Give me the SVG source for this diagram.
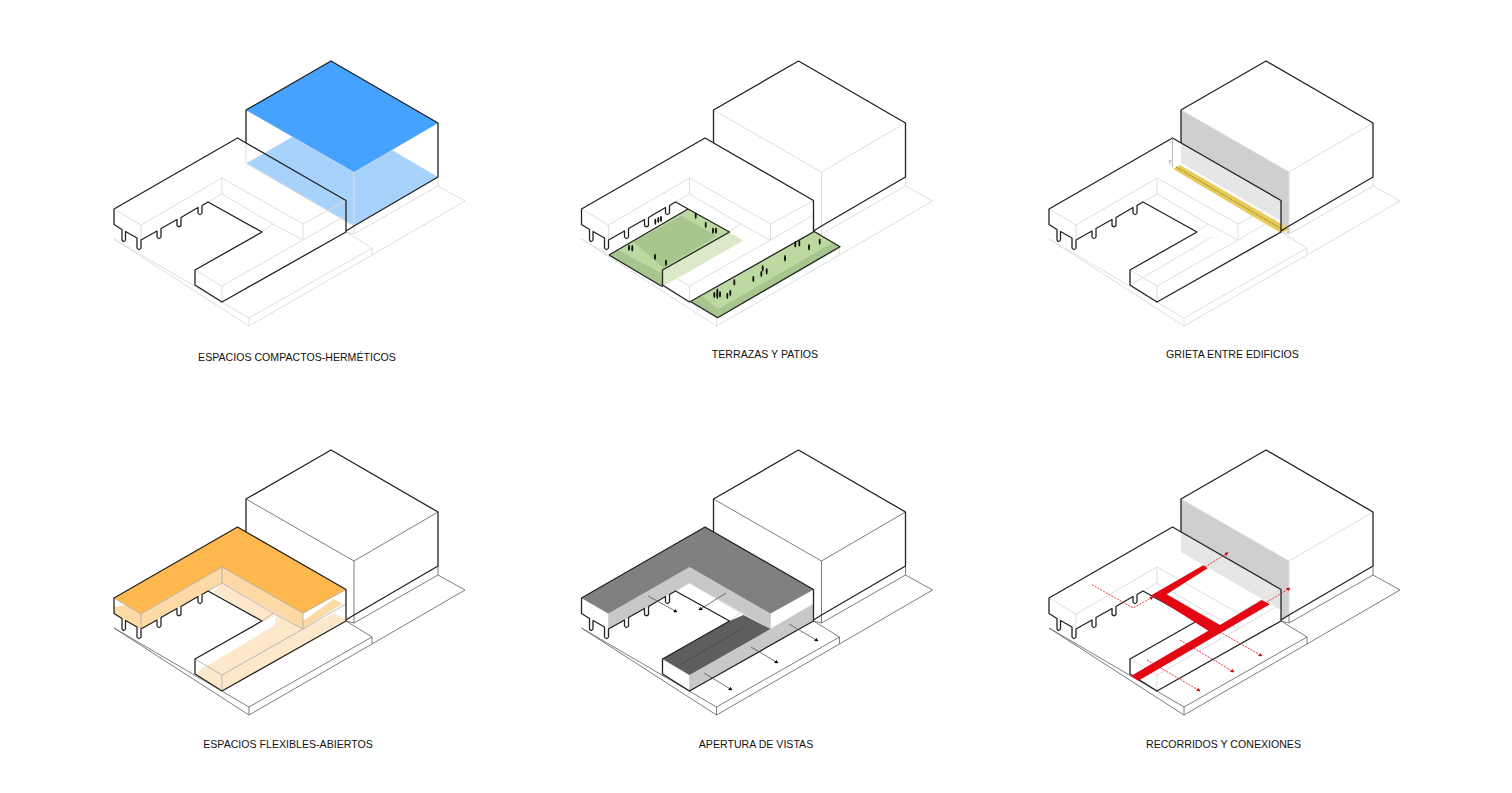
<svg xmlns="http://www.w3.org/2000/svg" width="1512" height="793" viewBox="0 0 1512 793">
<style>
.k{fill:none;stroke:#222;stroke-width:1.3;stroke-linejoin:round}
.g{fill:none;stroke:#6e6e6e;stroke-width:.9;stroke-linejoin:round}
.f{fill:none;stroke:#dedede;stroke-width:1;stroke-linejoin:round}
.s{fill:none;stroke:#a9a9a9;stroke-width:.8;stroke-linejoin:round}
.t{font-family:"Liberation Sans",Arial,sans-serif;font-size:10.6px;fill:#111;text-anchor:middle}
.p{fill:#111}
.va{fill:none;stroke:#555;stroke-width:.8;marker-end:url(#ah)}
.ra{fill:none;stroke:#e30613;stroke-width:.8;stroke-dasharray:2 1.2;marker-end:url(#ar)}
</style>
<defs>
<marker id="ah" viewBox="0 0 6 6" refX="5" refY="3" markerWidth="4" markerHeight="4" orient="auto" markerUnits="userSpaceOnUse"><path d="M0 0L6 3L0 6z" fill="#111"/></marker>
<marker id="ar" viewBox="0 0 6 6" refX="5" refY="3" markerWidth="4" markerHeight="4" orient="auto" markerUnits="userSpaceOnUse"><path d="M0 0L6 3L0 6z" fill="#d01018"/></marker>
<path id="ground" d="M114 239L249 318L372 248L346 232M114 239L249 326L372 255L465 201L438 186M249 318V326M372 248V255"/>
<path id="plinth" d="M354 226V234L438 186V177M346 232L354 234"/>
<path id="ytop" d="M246 110L354 172L438 123M354 172V226"/>
<path id="ylow" d="M246 143V163L354 226L438 177"/>
<path id="towerOut" d="M246 143V110L331 61L438 123V177L354 226L346 231"/>
<path id="lOut" d="M114 209L237.500 138L346 200.500V232L222 302L195 285V270L262 232L208 202L202 205.500V213Q200 216 198 213V207.500L181 217.500V225.500Q179 228 177 225.500V219.500L161 228.500V237Q159 240 157 237V231L141 240V248Q139 251 137 248V238L125.500 231.500V240Q123.500 243 122 240V229.500L114 224.500Z"/>
<path id="lIn" d="M114 209L141 225L222 178L303 224L346 200.500M141 225V240M222 178V194M303 224V240M208 202L222 194L273 224L303 240L346 215M195 270L222 286L303 240M222 286V302M262 232L273 224"/>
<polygon id="facesUp" points="141,224 222,178 303,224 303,240 222,194 141,240"/>
<polygon id="roof" points="114,209 237.500,138 346,200.500 303,224.500 222,178 141,224.500"/>
<g id="towerFace">
<polygon points="246,110 354,172 354,226 346,231 346,200.500 246,143" fill="#cfcfcf"/>
<polygon points="246,143 346,200.500 346,221 246,163" fill="#e6e6e6"/>
</g>
</defs>

<g id="panel-compactos">
<g class="f"><use href="#ground"/><use href="#plinth"/></g>
<polygon points="246,163.500 331,114.500 438,177 354,226" fill="#a6d2fc"/>
<use href="#ytop" class="f"/><use href="#ylow" class="f"/>
<polygon points="246,110 331,61 438,123 354,172" fill="#45a3ff"/>
<use href="#lIn" class="f"/>
<use href="#lOut" class="k"/>
<use href="#towerOut" class="k"/>
<text class="t" x="297" y="361">ESPACIOS COMPACTOS-HERMÉTICOS</text>
</g>

<g id="panel-terrazas" transform="translate(467.500 0)">
<g class="f"><use href="#ground"/><use href="#plinth"/><use href="#ytop"/></g>
<use href="#lIn" class="f"/>
<polygon points="262.500,232.700 275.500,240.700 195,286.700 195,270.700" fill="#dce9c9"/>
<polygon points="141.500,255 220.500,209 262.500,232.700 195,270.700 195,286.700" fill="#bcd9a2"/>
<polygon points="165.800,241.700 214.200,216 249.200,236 195.800,268" fill="#a6c68e"/>
<polygon points="141.500,255 150.800,250 195.200,274 195.200,286.700" fill="#a6c68e"/>
<polygon points="223.500,301.700 345.800,231 372.500,246.700 250.200,317.700" fill="#bcd9a2"/>
<polygon points="223.500,301.700 234.200,296 250.800,309 365.800,242.300 372.500,246.700 250.200,317.700" fill="#a6c68e"/>
<use href="#lOut" class="k"/>
<use href="#towerOut" class="k"/>
<path class="k" d="M141.500 255L220.500 209M141.500 255L195 286.700M223.500 301.700L250.200 317.700L372.500 246.700L345.800 231"/>
<g class="p">
<ellipse cx="161.500" cy="247.700" rx="1" ry="3.200"/><ellipse cx="164.800" cy="248.300" rx="1" ry="3.200"/><ellipse cx="187.500" cy="257" rx="1" ry="3.200"/><ellipse cx="198.500" cy="262.700" rx="1" ry="3.200"/><ellipse cx="187.800" cy="221.700" rx="1" ry="3.200"/><ellipse cx="190.800" cy="220" rx="1" ry="3.200"/><ellipse cx="193.500" cy="219" rx="1" ry="3.200"/><ellipse cx="228.200" cy="215.700" rx="1" ry="3.200"/><ellipse cx="238.200" cy="225" rx="1" ry="3.200"/><ellipse cx="245.500" cy="230.700" rx="1" ry="3.200"/><ellipse cx="248.500" cy="230.700" rx="1" ry="3.200"/>
<ellipse cx="246.800" cy="295" rx="1" ry="3.200"/><ellipse cx="249.800" cy="291.700" rx="1" ry="3.200"/><ellipse cx="249.800" cy="295.700" rx="1" ry="3.200"/><ellipse cx="252.500" cy="294.300" rx="1" ry="3.200"/><ellipse cx="259.800" cy="296" rx="1" ry="3.200"/><ellipse cx="262.800" cy="293" rx="1" ry="3.200"/><ellipse cx="266.800" cy="282.300" rx="1" ry="3.200"/><ellipse cx="285.800" cy="279" rx="1" ry="3.200"/><ellipse cx="293.800" cy="274" rx="1" ry="3.200"/><ellipse cx="295.200" cy="268.300" rx="1" ry="3.200"/><ellipse cx="299.200" cy="271.300" rx="1" ry="3.200"/><ellipse cx="317.500" cy="258.300" rx="1" ry="3.200"/><ellipse cx="327.800" cy="244.300" rx="1" ry="3.200"/><ellipse cx="331.800" cy="243.300" rx="1" ry="3.200"/><ellipse cx="341.500" cy="247.300" rx="1" ry="3.200"/><ellipse cx="352.200" cy="241.700" rx="1" ry="3.200"/>
</g>
<text class="t" x="297.500" y="358">TERRAZAS Y PATIOS</text>
</g>

<g id="panel-grieta" transform="translate(935 0)">
<g class="f"><use href="#ground"/><use href="#plinth"/></g>
<use href="#towerFace"/>
<use href="#ytop" class="f"/>
<use href="#lIn" class="f"/>
<path class="f" d="M195 285L277 237"/>
<polygon points="238,169 245,165 355,229 346,233" fill="#e7cc5a"/>
<path d="M241 167L350 231" fill="none" stroke="#5a4c14" stroke-width=".6" stroke-dasharray="2 1"/>
<use href="#lOut" class="k"/>
<use href="#towerOut" class="k"/>
<path class="s" d="M237.500 138V167M235 165V160M233.500 161.500L235 160L236.500 161.500M353 228V233M351.500 231.500L353 233L354.500 231.500"/>
<text class="t" x="297.500" y="358">GRIETA ENTRE EDIFICIOS</text>
</g>

<g id="panel-flexibles" transform="translate(0 389)">
<g class="g"><use href="#ground"/><use href="#plinth"/><use href="#ytop"/></g>
<polygon points="195,286 222,303 346,231 335,224 303,240 276,226 275,236 200,281" fill="#fde8cc"/>
<polygon points="222,194 276,226 263,233 213,203" fill="#fde8cc"/>
<polygon points="303,240 303,232 334,210 342,215" fill="#fcd9a5"/>
<polygon points="114,218 128,216 141,224 141,240 114,225" fill="#fcd9a5"/>
<use href="#facesUp" fill="#fcd9a5"/>
<use href="#roof" fill="#ffb84d"/>
<use href="#lIn" class="s"/>
<use href="#lOut" class="k"/>
<use href="#towerOut" class="k"/>
<text class="t" x="288" y="359">ESPACIOS FLEXIBLES-ABIERTOS</text>
</g>

<g id="panel-vistas" transform="translate(467.500 389)">
<g class="g"><use href="#ground"/><use href="#plinth"/><use href="#ytop"/></g>
<use href="#lIn" class="f"/>
<use href="#facesUp" fill="#c8c8c8"/>
<polygon points="303,240 346,215 346,232 222,302 222,286" fill="#c8c8c8"/>
<use href="#roof" fill="#808080"/>
<polygon points="195,270 222,286 303,240 276,226 262,232" fill="#5e5e5e"/>
<path d="M212.500 276L275.500 239" fill="none" stroke="#444" stroke-width=".7"/>
<use href="#lOut" class="k"/>
<use href="#towerOut" class="k"/>
<path class="va" d="M180.500 207L209.500 223"/>
<path class="va" d="M258.500 204L231.500 221"/>
<path class="va" d="M321.500 235L350.500 252"/>
<path class="va" d="M283.500 258L310.500 274"/>
<path class="va" d="M236.500 284L264.500 301"/>
<text class="t" x="288.500" y="359">APERTURA DE VISTAS</text>
</g>

<g id="panel-recorridos" transform="translate(935 389)">
<g class="g"><use href="#ground"/><use href="#plinth"/></g>
<use href="#towerFace"/>
<use href="#ytop" class="f"/>
<use href="#lIn" class="f"/>
<use href="#lOut" class="k"/>
<use href="#towerOut" class="k"/>
<polygon points="196,287 273.300,241.700 216.700,206 268.300,176.300 272.700,179.300 231.700,205.300 285,236 326.700,211 335,215.300 203.300,291.700" fill="#e30613"/>
<path class="ra" d="M157 195.700L198 219L218 208"/>
<path class="ra" d="M270 178L293 163.700"/>
<path class="ra" d="M332 213L355 199"/>
<path class="ra" d="M285 243L327 267"/>
<path class="ra" d="M245 251L299 283"/>
<path class="ra" d="M212 271L265 302"/>
<text class="t" x="288.500" y="359">RECORRIDOS Y CONEXIONES</text>
</g>
</svg>
